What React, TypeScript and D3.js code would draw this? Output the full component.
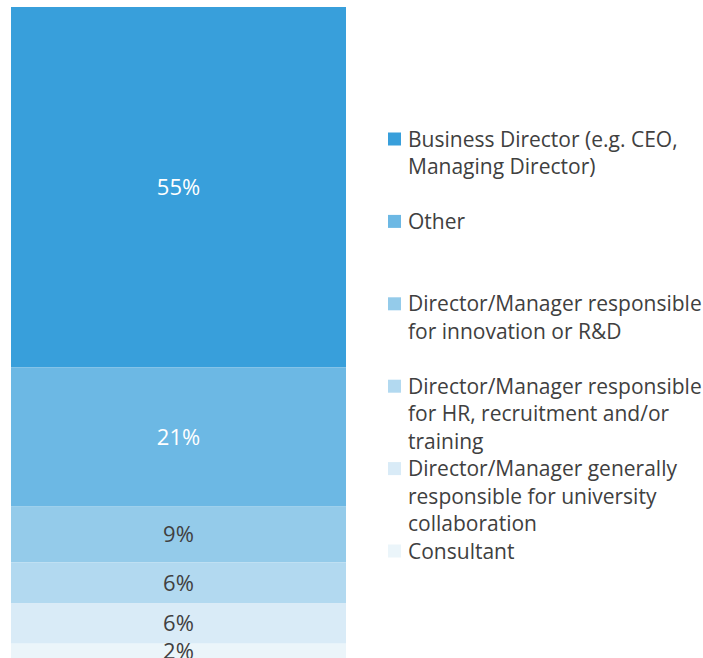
import { useEffect, useRef } from 'react';
import * as d3 from 'd3';

// stacked from the top of the bar down
const categories = [
  'Business Director (e.g. CEO,\nManaging Director)',
  'Other',
  'Director/Manager responsible\nfor innovation or R&D',
  'Director/Manager responsible\nfor HR, recruitment and/or\ntraining',
  'Director/Manager generally\nresponsible for university\ncollaboration',
  'Consultant',
];
const shares = [55, 21.2, 8.6, 6.2, 6.2, 2.4];
const colors = ['#389fdb', '#6cb8e4', '#94cbea', '#b2d9f0', '#d9ebf7', '#ebf5fa'];
const labelColors = ['#ffffff', '#ffffff', '#404040', '#404040', '#404040', '#404040'];

const W = 703;
const H = 658;
const FONT = '"Open Sans", Lato, sans-serif';

export default function App() {
  const svgRef = useRef<SVGSVGElement>(null);

  useEffect(() => {
    if (!svgRef.current) return;
    const svg = d3.select(svgRef.current);
    svg.selectAll('*').remove();

    const y = d3.scaleLinear().domain([0, 100]).range([7, 662]);
    const x0 = 11, x1 = 346;

    const stacked = shares.map((v, i) => {
      const start = d3.sum(shares.slice(0, i));
      return { v, i, start, end: start + v };
    });

    const bar = svg.append('g');
    bar.selectAll('rect')
      .data(stacked)
      .enter()
      .append('rect')
      .attr('x', x0)
      .attr('width', x1 - x0)
      .attr('y', d => y(d.start))
      .attr('height', d => y(d.end) - y(d.start))
      .attr('fill', d => colors[d.i]);

    bar.selectAll('text')
      .data(stacked)
      .enter()
      .append('text')
      .attr('x', (x0 + x1) / 2)
      .attr('y', d => (y(d.start) + y(d.end)) / 2)
      .attr('dy', '0.36em')
      .attr('text-anchor', 'middle')
      .style('font-family', FONT)
      .style('font-size', '22px')
      .attr('fill', d => labelColors[d.i])
      .text(d => `${Math.round(d.v)}%`);

    // legend rows spaced evenly
    const ly = d3.scaleLinear().domain([0, categories.length - 1]).range([139, 551]);
    const legend = svg.append('g');
    const items = legend.selectAll('g')
      .data(categories)
      .enter()
      .append('g')
      .attr('transform', (d, i) => `translate(388,${ly(i)})`);

    items.append('rect')
      .attr('x', 0)
      .attr('y', -6.5)
      .attr('width', 13)
      .attr('height', 13)
      .attr('fill', (d, i) => colors[i]);

    items.append('text')
      .style('font-family', FONT)
      .style('font-size', '21px')
      .attr('fill', '#404040')
      .selectAll('tspan')
      .data(d => d.split('\n'))
      .enter()
      .append('tspan')
      .attr('x', 20)
      .attr('y', (d, j) => j * 27.5)
      .attr('dy', '0.36em')
      .text(d => d);
  }, []);

  return (
    <svg
      ref={svgRef}
      width={W}
      height={H}
      style={{ position: 'absolute', left: 0, top: 0, background: '#fff' }}
    />
  );
}
